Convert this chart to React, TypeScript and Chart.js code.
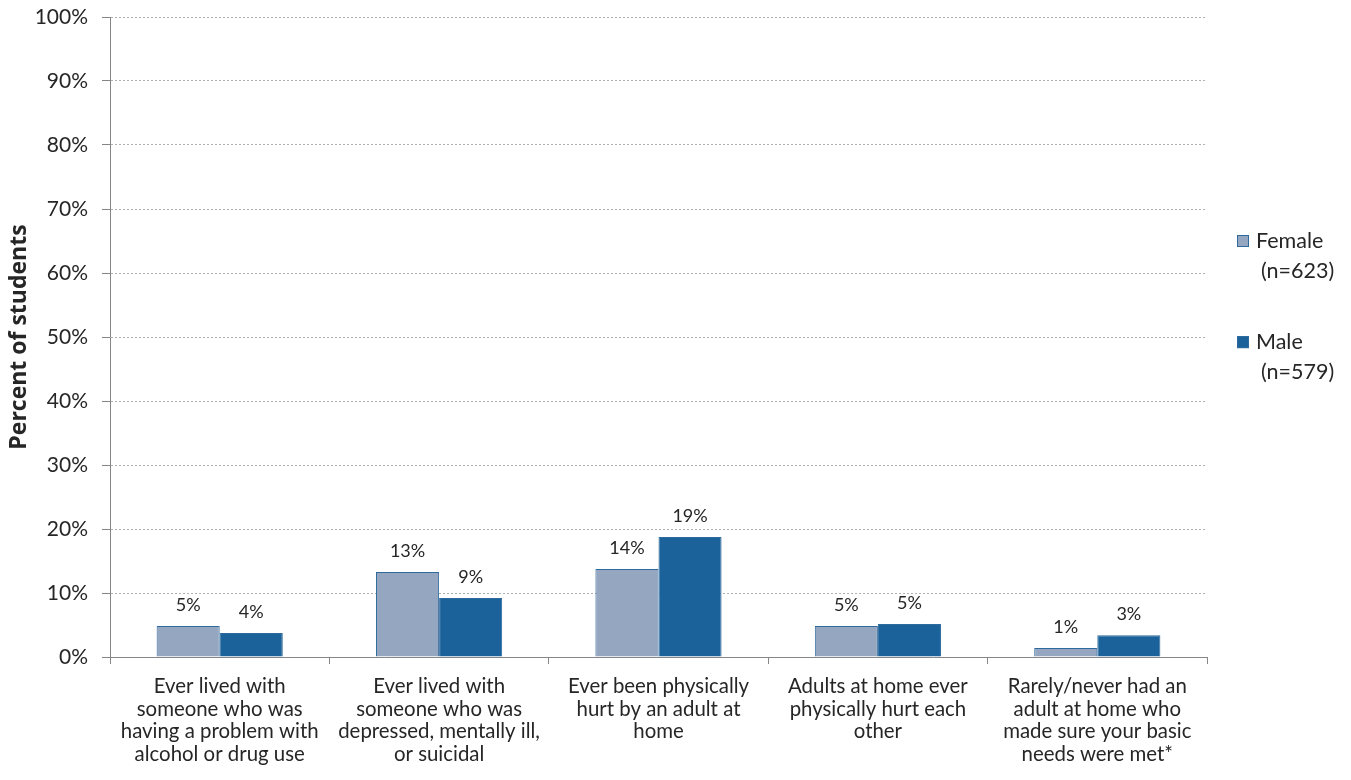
import React, { useEffect, useRef } from "react";
import { Chart, registerables } from "chart.js";

Chart.register(...registerables);

const categories: string[][] = [
  ["Ever lived with", "someone who was", "having a problem with", "alcohol or drug use"],
  ["Ever lived with", "someone who was", "depressed, mentally ill,", "or suicidal"],
  ["Ever been physically", "hurt by an adult at", "home"],
  ["Adults at home ever", "physically hurt each", "other"],
  ["Rarely/never had an", "adult at home who", "made sure your basic", "needs were met*"],
];
const femaleValues = [4.85, 13.3, 13.75, 4.85, 1.4];
const maleValues = [3.75, 9.2, 18.75, 5.15, 3.4];
const femaleLabels = ["5%", "13%", "14%", "5%", "1%"];
const maleLabels = ["4%", "9%", "19%", "5%", "3%"];
const legendLines = [
  ["Female", "(n=623)"],
  ["Male", "(n=579)"],
];
const yTicks = [0, 10, 20, 30, 40, 50, 60, 70, 80, 90, 100];

const FONT = "Lato, 'Open Sans', sans-serif";
const BOLD_FONT = "'Open Sans', 'Noto Sans', sans-serif";
const FEMALE_BG = "#95A6C0";
const MALE_BG = "#1B629A";
const BORDER = "#2E6A9D";
const TEXT = "#262626";

const labelPlugin = {
  id: "valueLabels",
  afterDatasetsDraw(chart: any) {
    const ctx = chart.ctx;
    ctx.save();
    ctx.font = `18px ${FONT}`;
    ctx.fillStyle = TEXT;
    ctx.textAlign = "center";
    ctx.textBaseline = "middle";
    const all = [femaleLabels, maleLabels];
    chart.data.datasets.forEach((ds: any, di: number) => {
      const meta = chart.getDatasetMeta(di);
      meta.data.forEach((el: any, i: number) => {
        ctx.fillText(all[di][i], el.x, el.y - 21);
      });
    });
    ctx.restore();
  },
};

const legendPlugin = {
  id: "customLegend",
  afterDraw(chart: any) {
    const ctx = chart.ctx;
    const area = chart.chartArea;
    const yScale = chart.scales.y;
    ctx.save();
    ctx.font = `21.5px ${FONT}`;
    ctx.textBaseline = "middle";
    ctx.textAlign = "left";
    const colors = [FEMALE_BG, MALE_BG];
    const tops = [yScale.getPixelForValue(65.0), yScale.getPixelForValue(49.2)];
    const bx = area.right + 30;
    legendLines.forEach((lines, i) => {
      const y = tops[i];
      ctx.fillStyle = colors[i];
      ctx.fillRect(bx, y - 6, 12, 12);
      ctx.strokeStyle = BORDER;
      ctx.lineWidth = 1;
      ctx.strokeRect(bx + 0.5, y - 5.5, 11, 11);
      ctx.fillStyle = TEXT;
      ctx.fillText(lines[0], bx + 19, y);
      ctx.fillText(lines[1], bx + 24, y + 30);
    });
    ctx.restore();
  },
};

export default function App() {
  const ref = useRef<HTMLCanvasElement | null>(null);
  useEffect(() => {
    document.body.style.margin = "0";
    const canvas = ref.current!;
    const chart = new Chart(canvas, {
      type: "bar",
      data: {
        labels: categories,
        datasets: [
          {
            label: "Female (n=623)",
            data: femaleValues,
            backgroundColor: FEMALE_BG,
            borderColor: BORDER,
            borderWidth: 1,
          },
          {
            label: "Male (n=579)",
            data: maleValues,
            backgroundColor: MALE_BG,
            borderColor: BORDER,
            borderWidth: 1,
          },
        ],
      },
      options: {
        animation: false,
        responsive: false,
        maintainAspectRatio: false,
        layout: { padding: { left: 0, right: 144, top: 17, bottom: 0 } },
        datasets: { bar: { categoryPercentage: 0.575, barPercentage: 1 } },
        plugins: {
          legend: { display: false },
          tooltip: { enabled: false },
        },
        scales: {
          x: {
            offset: true,
            grid: {
              offset: true,
              drawOnChartArea: false,
              drawTicks: true,
              tickLength: 7,
              color: "#868686",
            },
            border: { color: "#868686", width: 1 },
            ticks: {
              color: TEXT,
              font: { family: FONT, size: 20.4, lineHeight: 1.11 },
              padding: 11,
              maxRotation: 0,
              autoSkip: false,
            },
            afterFit(scale: any) {
              scale.height = 123;
              scale.paddingLeft = 0;
              scale.paddingRight = 0;
            },
          },
          y: {
            min: 0,
            max: 100,
            afterBuildTicks(scale: any) {
              scale.ticks = yTicks.map((v) => ({ value: v }));
            },
            grid: {
              color: "#B0B0B0",
              tickColor: "#868686",
              tickLength: 8,
              tickBorderDash: [],
              drawTicks: true,
            } as any,
            border: { color: "#868686", width: 1, dash: [2, 2] },
            ticks: {
              color: TEXT,
              font: { family: FONT, size: 21 },
              padding: 14,
              callback: (v: any) => `${v}%`,
            },
            title: {
              display: true,
              text: "Percent of students",
              color: TEXT,
              font: { family: BOLD_FONT, size: 23, weight: "bold" },
              padding: { top: 6, bottom: 0 },
            },
            afterFit(scale: any) {
              scale.width = 110;
              scale.paddingTop = 0;
              scale.paddingBottom = 0;
            },
          },
        },
      },
      plugins: [labelPlugin, legendPlugin],
    } as any);
    return () => chart.destroy();
  }, []);
  return (
    <div style={{ width: 1351, height: 780 }}>
      <canvas ref={ref} width={1351} height={780} style={{ display: "block" }} />
    </div>
  );
}
